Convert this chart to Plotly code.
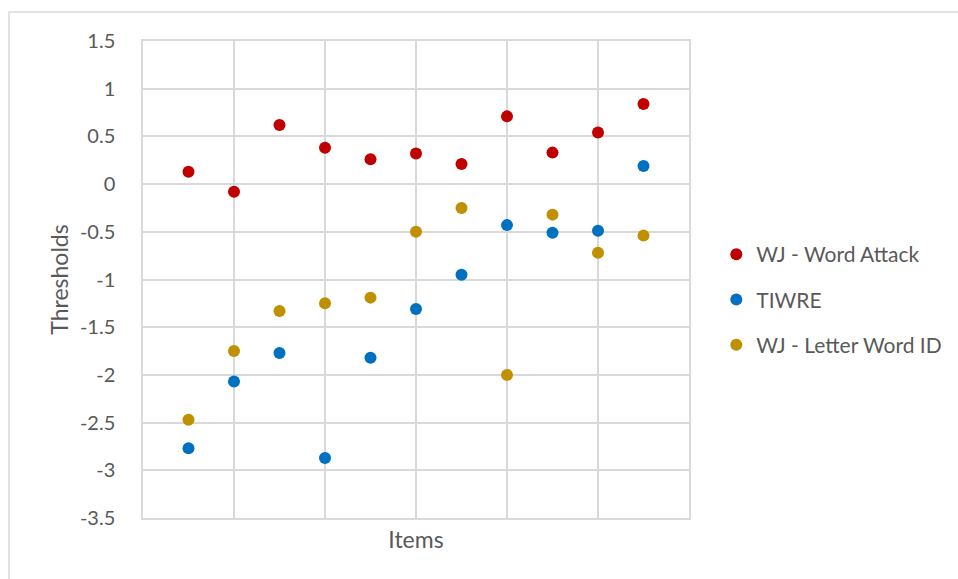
import plotly.graph_objects as go

items = list(range(1, 12))
word_attack = [0.13, -0.08, 0.62, 0.38, 0.26, 0.32, 0.21, 0.71, 0.33, 0.54, 0.84]
tiwre = [-2.77, -2.07, -1.77, -2.87, -1.82, -1.31, -0.95, -0.43, -0.51, -0.49, 0.19]
letter_word = [-2.47, -1.75, -1.33, -1.25, -1.19, -0.50, -0.25, -2.00, -0.32, -0.72, -0.54]
y_ticks = [1.5, 1, 0.5, 0, -0.5, -1, -1.5, -2, -2.5, -3, -3.5]
y_tick_labels = ["1.5", "1", "0.5", "0", "-0.5", "-1", "-1.5", "-2", "-2.5", "-3", "-3.5"]

series = [
    ("WJ - Word Attack", word_attack, "#C00000"),
    ("TIWRE", tiwre, "#0070C0"),
    ("WJ - Letter Word ID", letter_word, "#BF9000"),
]

fig = go.Figure()
for i, (name, vals, col) in enumerate(series):
    fig.add_trace(go.Scatter(x=items, y=vals, mode="markers", name=name,
                             legendgroup=f"g{i}",
                             marker=dict(size=12, color=col)))

grid = "#D9D9D9"
txt = "#595959"
fig.update_layout(
    width=958, height=579,
    margin=dict(l=143, r=269, t=41, b=61, autoexpand=False),
    paper_bgcolor="white", plot_bgcolor="white",
    font=dict(family="Lato, Open Sans, sans-serif", color=txt, size=20),
    showlegend=True,
    legend=dict(x=1.05, y=0.458, xanchor="left", yanchor="middle",
                tracegroupgap=15, font=dict(size=21, color=txt),
                itemsizing="constant"),
    xaxis=dict(range=[0, 12], dtick=2, tick0=0, showticklabels=False,
               showgrid=True, gridcolor=grid, gridwidth=1.5,
               showline=True, linecolor=grid, linewidth=1.5, mirror=True,
               zeroline=False,
               title=dict(text="Items", font=dict(size=23, color=txt), standoff=13)),
    yaxis=dict(range=[-3.5, 1.5], tickmode="array", tickvals=y_ticks, ticktext=y_tick_labels,
               showgrid=True, gridcolor=grid, gridwidth=1.5,
               showline=True, linecolor=grid, linewidth=1.5, mirror=True,
               zeroline=False, ticks="", ticklabelstandoff=22,
               tickfont=dict(size=20, color=txt),
               title=dict(text="Thresholds", font=dict(size=23, color=txt), standoff=5)),
    shapes=[dict(type="rect", xref="paper", yref="paper",
                 x0=-0.2454, x1=1.6, y0=-0.3, y1=1.0608,
                 line=dict(color="#D9D9D9", width=1.5), layer="below")],
)

fig.write_html("out.html")
